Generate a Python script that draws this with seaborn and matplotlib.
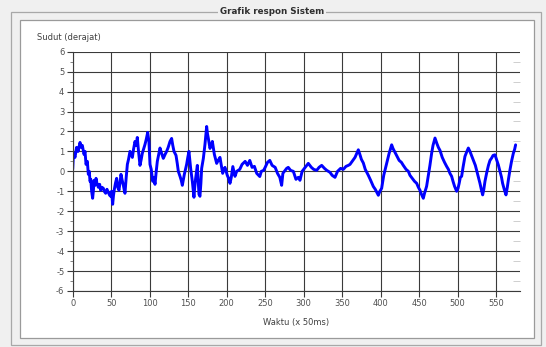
import numpy as np
import pandas as pd
import matplotlib
matplotlib.use("Agg")
import matplotlib.pyplot as plt
from matplotlib.patches import Rectangle
from matplotlib.ticker import MultipleLocator
import seaborn as sns

# Sampled response: time index (x 50 ms) and angle (degrees)
waktu = [
    0, 1, 3, 5, 7, 9.5, 11, 12.5, 14.7, 16, 17.3, 19, 20.3, 21.5, 22.5, 23.5,
    24.6, 25.9, 27, 27.7, 29, 30.3, 31.5, 33.3, 35, 36.3, 38, 39.8, 41, 42.8,
    44.5, 46.3, 48, 49.3, 50.5, 51.9, 53, 54.1, 55.5, 57.1, 58.5, 60.1, 61.5,
    62.7, 64, 65.8, 67, 67.9, 69.5, 71, 72.5, 74.4, 76, 77.5, 79, 80.9, 82.5,
    83.9, 85.5, 87.4, 89, 90.4, 92, 93.9, 95.5, 97.4, 99, 100.4, 102, 103.9,
    105.5, 106.9, 108.5, 109.9, 111.5, 113.4, 115.5, 117.7, 120, 122, 124,
    126.4, 128.5, 130, 131.6, 134.2, 135.8, 137.2, 139.4, 141, 142.4, 145,
    146.5, 148, 149.5, 151, 153.2, 155.4, 157.5, 158.5, 159.7, 161.9, 163, 164,
    165.3, 166.5, 167.5, 169.7, 171.8, 174, 175, 176.2, 178.3, 180, 181.4, 183,
    184, 187, 189, 191.3, 193, 194.8, 196.5, 197.8, 200.8, 202.5, 204.3, 206,
    208, 210.8, 213, 217, 220, 224, 227, 230, 233, 236, 239, 243, 245, 248, 250,
    253, 256, 259, 263, 266, 269, 271.4, 273, 277.9, 280, 283, 286.6, 290, 293,
    295.2, 298, 302, 306, 310, 313, 316.9, 320, 323.4, 327, 330, 334.2, 337,
    340.7, 344, 348, 351.5, 355, 358, 360.2, 363, 366.7, 369, 371, 373, 375,
    377.5, 380, 384, 387, 390.5, 393, 395, 397, 399, 401.3, 404, 407.8, 411,
    414.3, 416, 418, 420.8, 424, 427, 429.4, 433, 436, 438.1, 441, 444, 446.8,
    449, 451.1, 453, 455.4, 457, 459.7, 462, 464, 466.2, 468, 470.6, 473, 475,
    477.1, 480, 483, 485.7, 488, 490, 492.2, 494, 496, 498.7, 500.5, 502, 503.5,
    505.2, 507, 509.5, 511.5, 513.9, 516, 518, 520.3, 523, 525, 526.8, 529, 531,
    532.5, 534, 535.5, 537.7, 540, 542, 544.2, 546, 548.5, 550.5, 552.8, 555,
    557, 558.4, 560.5, 562.8, 564.5, 566, 568, 570, 572.3, 574, 575.3,
]
sudut = [
    0.1, 0.9, 0.7, 1.2, 1.0, 1.45, 1.2, 1.3, 0.85, 1.0, 0.35, 0.5, -0.15, 0.0,
    -0.5, -0.4, -1.0, -1.35, -0.9, -0.45, -0.7, -0.35, -0.6, -0.8, -0.65, -0.95,
    -0.8, -0.85, -1.0, -1.1, -0.9, -1.05, -1.2, -1.25, -1.0, -1.65, -1.2, -0.9,
    -0.6, -0.35, -0.8, -0.95, -0.55, -0.15, -0.4, -0.7, -0.95, -1.1, -0.3, 0.35,
    0.6, 1.0, 0.85, 0.7, 1.1, 1.5, 1.3, 1.7, 1.0, 0.3, 0.6, 0.9, 1.1, 1.35, 1.6,
    1.95, 1.5, 0.35, 0.1, -0.5, -0.3, -0.65, 0.0, 0.5, 0.8, 1.17, 0.9, 0.65,
    0.85, 1.0, 1.2, 1.5, 1.65, 1.3, 1.0, 0.8, 0.4, 0.0, -0.25, -0.45, -0.7,
    -0.15, 0.1, 0.35, 0.7, 1.0, 0.15, -0.5, -1.3, -0.8, -0.35, 0.3, -0.5, -1.15,
    -1.25, -0.6, 0.15, 0.65, 1.35, 2.25, 1.9, 1.65, 1.15, 1.3, 1.5, 1.1, 0.85,
    0.4, 0.55, 0.7, 0.3, -0.1, 0.1, 0.2, -0.2, -0.35, -0.6, -0.3, 0.24, -0.25,
    0.0, 0.1, 0.35, 0.5, 0.3, 0.55, 0.2, 0.25, -0.1, -0.26, 0.0, 0.05, 0.2,
    0.45, 0.55, 0.3, 0.2, -0.1, -0.3, -0.7, -0.1, 0.15, 0.2, 0.05, 0.0, -0.4,
    -0.3, -0.45, 0.0, 0.2, 0.4, 0.2, 0.1, 0.05, 0.2, 0.3, 0.15, 0.05, -0.05,
    -0.2, -0.3, 0.0, 0.15, 0.1, 0.25, 0.3, 0.35, 0.5, 0.7, 0.9, 1.08, 0.85, 0.6,
    0.42, 0.1, -0.2, -0.45, -0.76, -0.9, -1.05, -1.2, -1.0, -0.85, -0.2, 0.4,
    0.9, 1.33, 1.15, 1.0, 0.8, 0.55, 0.45, 0.3, 0.1, 0.0, -0.2, -0.35, -0.5,
    -0.6, -0.8, -0.95, -1.15, -1.35, -1.1, -0.75, -0.2, 0.3, 0.9, 1.3, 1.67,
    1.4, 1.2, 1.05, 0.7, 0.45, 0.25, 0.1, -0.1, -0.25, -0.5, -0.75, -1.0, -0.85,
    -0.6, -0.3, -0.25, 0.2, 0.75, 0.95, 1.17, 1.0, 0.8, 0.58, 0.3, 0.0, -0.25,
    -0.6, -0.95, -1.18, -0.9, -0.5, -0.08, 0.3, 0.55, 0.67, 0.8, 0.83, 0.6,
    0.33, 0.0, -0.3, -0.6, -0.9, -1.18, -0.8, -0.4, 0.08, 0.5, 0.9, 1.1, 1.33,
]

x_ticks = list(range(0, 551, 50))
y_ticks = list(range(-6, 7))

W, H = 546, 347

sns.set_style("white")
plt.rcParams["font.family"] = ["DejaVu Sans"]
plt.rcParams["axes.unicode_minus"] = False

fig = plt.figure(figsize=(W / 100, H / 100), dpi=100, facecolor="#f0f0f0")


def fx(px):
    return px / W


def fy(py):
    return 1 - py / H


# Group box frame and title
fig.add_artist(Rectangle((fx(11), fy(345)), fx(541) - fx(11), fy(12) - fy(345),
                         transform=fig.transFigure, fill=False,
                         edgecolor="#a8a8a8", lw=0.9, zorder=-2))
fig.add_artist(Rectangle((fx(20), fy(338)), fx(534) - fx(20), fy(20) - fy(338),
                         transform=fig.transFigure, facecolor="white",
                         edgecolor="#9a9a9a", lw=0.9, zorder=-1))
fig.text(fx(272), fy(12), "Grafik respon Sistem", ha="center", va="center",
         fontsize=6.3, fontweight="bold", color="#303030",
         bbox=dict(facecolor="#f0f0f0", edgecolor="none", pad=1.5))

ax = fig.add_axes([fx(72.7), fy(291), fx(520) - fx(72.7), fy(51.7) - fy(291)])
ax.set_facecolor("white")

df = pd.DataFrame({"Waktu": waktu, "Sudut": sudut})
sns.lineplot(data=df, x="Waktu", y="Sudut", ax=ax, color="#0000ff",
             lw=2.1, estimator=None, sort=False)

ax.set_xlim(0, 581)
ax.set_ylim(-6, 6)
ax.set_xticks(x_ticks)
ax.set_yticks(y_ticks)
ax.xaxis.set_minor_locator(MultipleLocator(25))
ax.yaxis.set_minor_locator(MultipleLocator(0.5))
ax.grid(True, which="major", color="#3a3a3a", lw=0.8)
ax.set_axisbelow(True)

for side in ("top", "right"):
    ax.spines[side].set_visible(False)
for side in ("left", "bottom"):
    ax.spines[side].set_color("#3a3a3a")
    ax.spines[side].set_linewidth(0.8)

ax.tick_params(which="major", length=4, width=0.8, color="#3a3a3a",
               labelsize=6, labelcolor="#505050", pad=2)
ax.tick_params(which="minor", length=2, width=0.6, color="#707070")
ax.tick_params(axis="both", left=True, bottom=True)

ax.set_xlabel("Waktu (x 50ms)", fontsize=6, color="#404040", labelpad=7)
ax.set_ylabel("")

fig.text(fx(37), fy(37), "Sudut (derajat)", ha="left", va="center",
         fontsize=6, color="#404040")

# Faint inner minor ticks on the right edge
ax2 = ax.twinx()
ax2.set_ylim(-6, 6)
ax2.set_yticks([])
ax2.set_yticks(np.arange(-5.5, 6, 1), minor=True)
ax2.tick_params(which="minor", direction="in", length=5, width=0.6,
                color="#c8c8c8", right=True, pad=-6)
for s in ax2.spines.values():
    s.set_visible(False)

fig.savefig("out.png", dpi=100, facecolor=fig.get_facecolor())
